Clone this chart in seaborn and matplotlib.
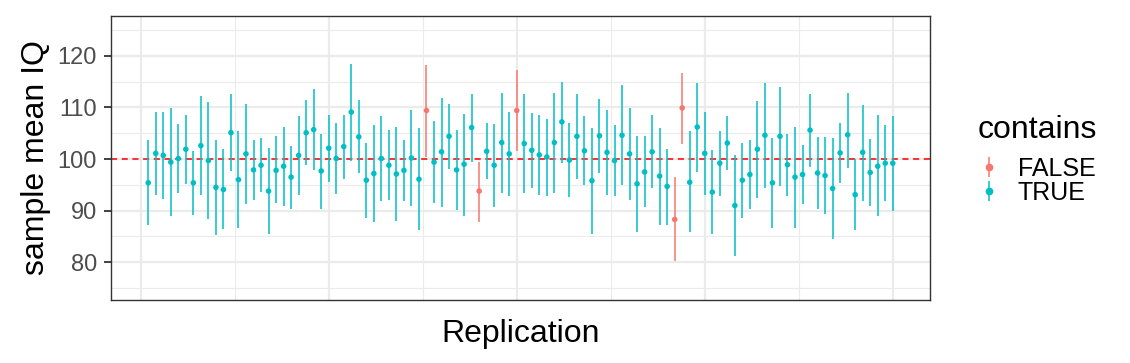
import numpy as np
import pandas as pd
import matplotlib
matplotlib.use("Agg")
import matplotlib.pyplot as plt
import seaborn as sns
from matplotlib.lines import Line2D
from matplotlib.legend_handler import HandlerTuple
from matplotlib.ticker import MultipleLocator

replication = list(range(1, 101))
sample_mean = [95.4, 101.1, 100.7, 99.4, 100.1, 101.9, 95.4, 102.6, 99.7, 94.5,
               94.1, 105.1, 96.0, 101.0, 97.9, 98.8, 93.8, 97.8, 98.6, 96.5,
               100.7, 105.1, 105.7, 97.7, 102.1, 100.1, 102.4, 109.1, 104.3, 95.9,
               97.2, 100.1, 98.8, 97.1, 97.8, 100.2, 96.1, 109.4, 99.4, 101.4,
               104.4, 97.9, 99.0, 106.1, 93.8, 101.5, 98.8, 103.2, 101.0, 109.4,
               103.0, 101.7, 100.8, 100.4, 103.2, 107.2, 99.8, 104.4, 101.6, 95.8,
               104.5, 101.3, 99.7, 104.6, 101.0, 95.2, 97.5, 101.4, 96.7, 94.7,
               88.3, 109.9, 95.5, 106.2, 101.1, 93.6, 99.2, 103.1, 91.0, 95.9,
               97.0, 101.9, 104.6, 95.4, 104.4, 98.9, 96.5, 97.0, 105.6, 97.3,
               96.8, 94.3, 101.2, 104.7, 93.1, 101.3, 97.4, 98.6, 99.2, 99.2]
ci_lower = [87.2, 93.0, 92.3, 88.9, 93.4, 95.2, 89.2, 93.0, 88.3, 85.2,
            86.4, 97.6, 86.6, 91.2, 92.1, 93.6, 85.5, 91.4, 90.9, 90.3,
            93.1, 98.9, 97.8, 90.4, 95.5, 93.3, 96.1, 99.7, 97.2, 88.6,
            87.8, 91.9, 92.0, 88.0, 91.9, 90.9, 86.2, 100.4, 91.5, 90.7,
            98.1, 90.1, 89.0, 99.4, 87.9, 96.1, 90.8, 93.5, 92.8, 101.5,
            93.4, 94.4, 93.1, 92.8, 93.4, 99.2, 92.6, 96.2, 94.9, 85.5,
            97.3, 93.0, 92.8, 95.0, 92.0, 85.9, 90.7, 94.3, 87.3, 87.3,
            80.2, 103.0, 85.9, 97.5, 93.0, 85.5, 92.8, 97.8, 81.2, 88.6,
            90.3, 92.5, 94.4, 86.7, 94.8, 92.8, 86.7, 91.2, 98.5, 90.3,
            89.3, 84.5, 95.4, 98.3, 86.2, 91.9, 90.9, 88.9, 91.9, 89.9]
ci_upper = [103.6, 109.1, 109.1, 109.9, 106.8, 108.5, 101.5, 112.3, 111.0, 103.6,
            101.9, 112.5, 105.4, 110.7, 103.7, 104.1, 102.2, 104.4, 106.3, 102.6,
            108.3, 111.4, 113.6, 104.9, 108.6, 107.0, 108.6, 118.5, 111.4, 103.2,
            106.6, 108.4, 105.7, 106.3, 103.7, 109.5, 106.0, 118.3, 107.4, 111.9,
            110.6, 105.7, 108.8, 112.6, 99.5, 106.9, 106.8, 112.8, 109.1, 117.2,
            112.5, 109.0, 108.5, 107.8, 112.8, 115.0, 107.0, 112.5, 108.3, 106.1,
            111.7, 109.5, 106.6, 114.3, 109.9, 104.4, 104.4, 108.5, 106.0, 102.0,
            96.5, 116.7, 105.4, 114.8, 109.2, 101.7, 105.5, 108.3, 100.8, 103.1,
            103.7, 111.2, 114.7, 104.1, 113.9, 104.8, 106.2, 102.8, 112.6, 104.3,
            104.3, 104.1, 107.0, 112.8, 100.1, 110.5, 103.8, 108.5, 106.5, 108.3]
true_mean = 100

df = pd.DataFrame({"Replication": replication, "mean": sample_mean,
                   "lower": ci_lower, "upper": ci_upper})
df["contains"] = np.where((df["lower"] <= true_mean) & (df["upper"] >= true_mean), "TRUE", "FALSE")

palette = {"FALSE": "#F8766D", "TRUE": "#00BFC4"}

sns.set_theme(style="white")
plt.rcParams["font.family"] = ["Liberation Sans", "DejaVu Sans"]
plt.rcParams["text.color"] = "black"

fig = plt.figure(figsize=(11.3, 3.63), dpi=100)
ax = fig.add_axes([111 / 1130, 1 - 300 / 363, (930 - 111) / 1130, (300 - 16) / 363])

ax.set_xlim(-3.95, 104.95)
ax.set_ylim(72.7, 127.7)
ax.xaxis.set_major_locator(MultipleLocator(25))
ax.xaxis.set_minor_locator(MultipleLocator(12.5))
ax.yaxis.set_major_locator(MultipleLocator(10))
ax.yaxis.set_minor_locator(MultipleLocator(5))
ax.grid(which="major", color="#EBEBEB", linewidth=1.6, zorder=0)
ax.grid(which="minor", color="#EBEBEB", linewidth=0.8, zorder=0)
ax.set_axisbelow(True)

ax.axhline(true_mean, color="#FF0000", linestyle=(0, (4, 3)), linewidth=1.1, zorder=1.5)
for key, sub in df.groupby("contains"):
    ax.vlines(sub["Replication"], sub["lower"], sub["upper"], color=palette[key],
              linewidth=1.1, zorder=2)
sns.scatterplot(data=df, x="Replication", y="mean", hue="contains", palette=palette,
                hue_order=["FALSE", "TRUE"], s=16, linewidth=0, ax=ax, zorder=3,
                legend=False)

for sp in ax.spines.values():
    sp.set_color("#333333")
    sp.set_linewidth(1.0)

ax.set_xticklabels([])
ax.tick_params(axis="x", which="both", length=0)
ax.tick_params(axis="y", which="major", length=5, width=1.3, color="#333333",
               labelsize=17, labelcolor="#4D4D4D", pad=5, left=True)
ax.tick_params(axis="y", which="minor", length=0)
ax.set_xlabel("Replication", fontsize=23, color="black", labelpad=10)
ax.set_ylabel("sample mean IQ", fontsize=23, color="black", labelpad=5)

handles = []
for key in ["FALSE", "TRUE"]:
    h1 = Line2D([], [], color=palette[key], marker="|", markersize=15, markeredgewidth=1.1,
                linestyle="none")
    h2 = Line2D([], [], color=palette[key], marker="o", markersize=4.5, linestyle="none")
    handles.append((h1, h2))
fig.text(978 / 1130, 1 - 138 / 363, "contains", fontsize=23, color="black",
         ha="left", va="baseline")
leg = fig.legend(handles, ["FALSE", "TRUE"],
                 handler_map={tuple: HandlerTuple(ndivide=1, pad=0)},
                 loc="upper left", bbox_to_anchor=(976.5 / 1130, 1 - 157 / 363),
                 frameon=False, fontsize=18, labelcolor="black",
                 handlelength=1.0, handletextpad=0.66, labelspacing=0.0,
                 borderaxespad=0, borderpad=0)

fig.savefig("out.png", dpi=100)
